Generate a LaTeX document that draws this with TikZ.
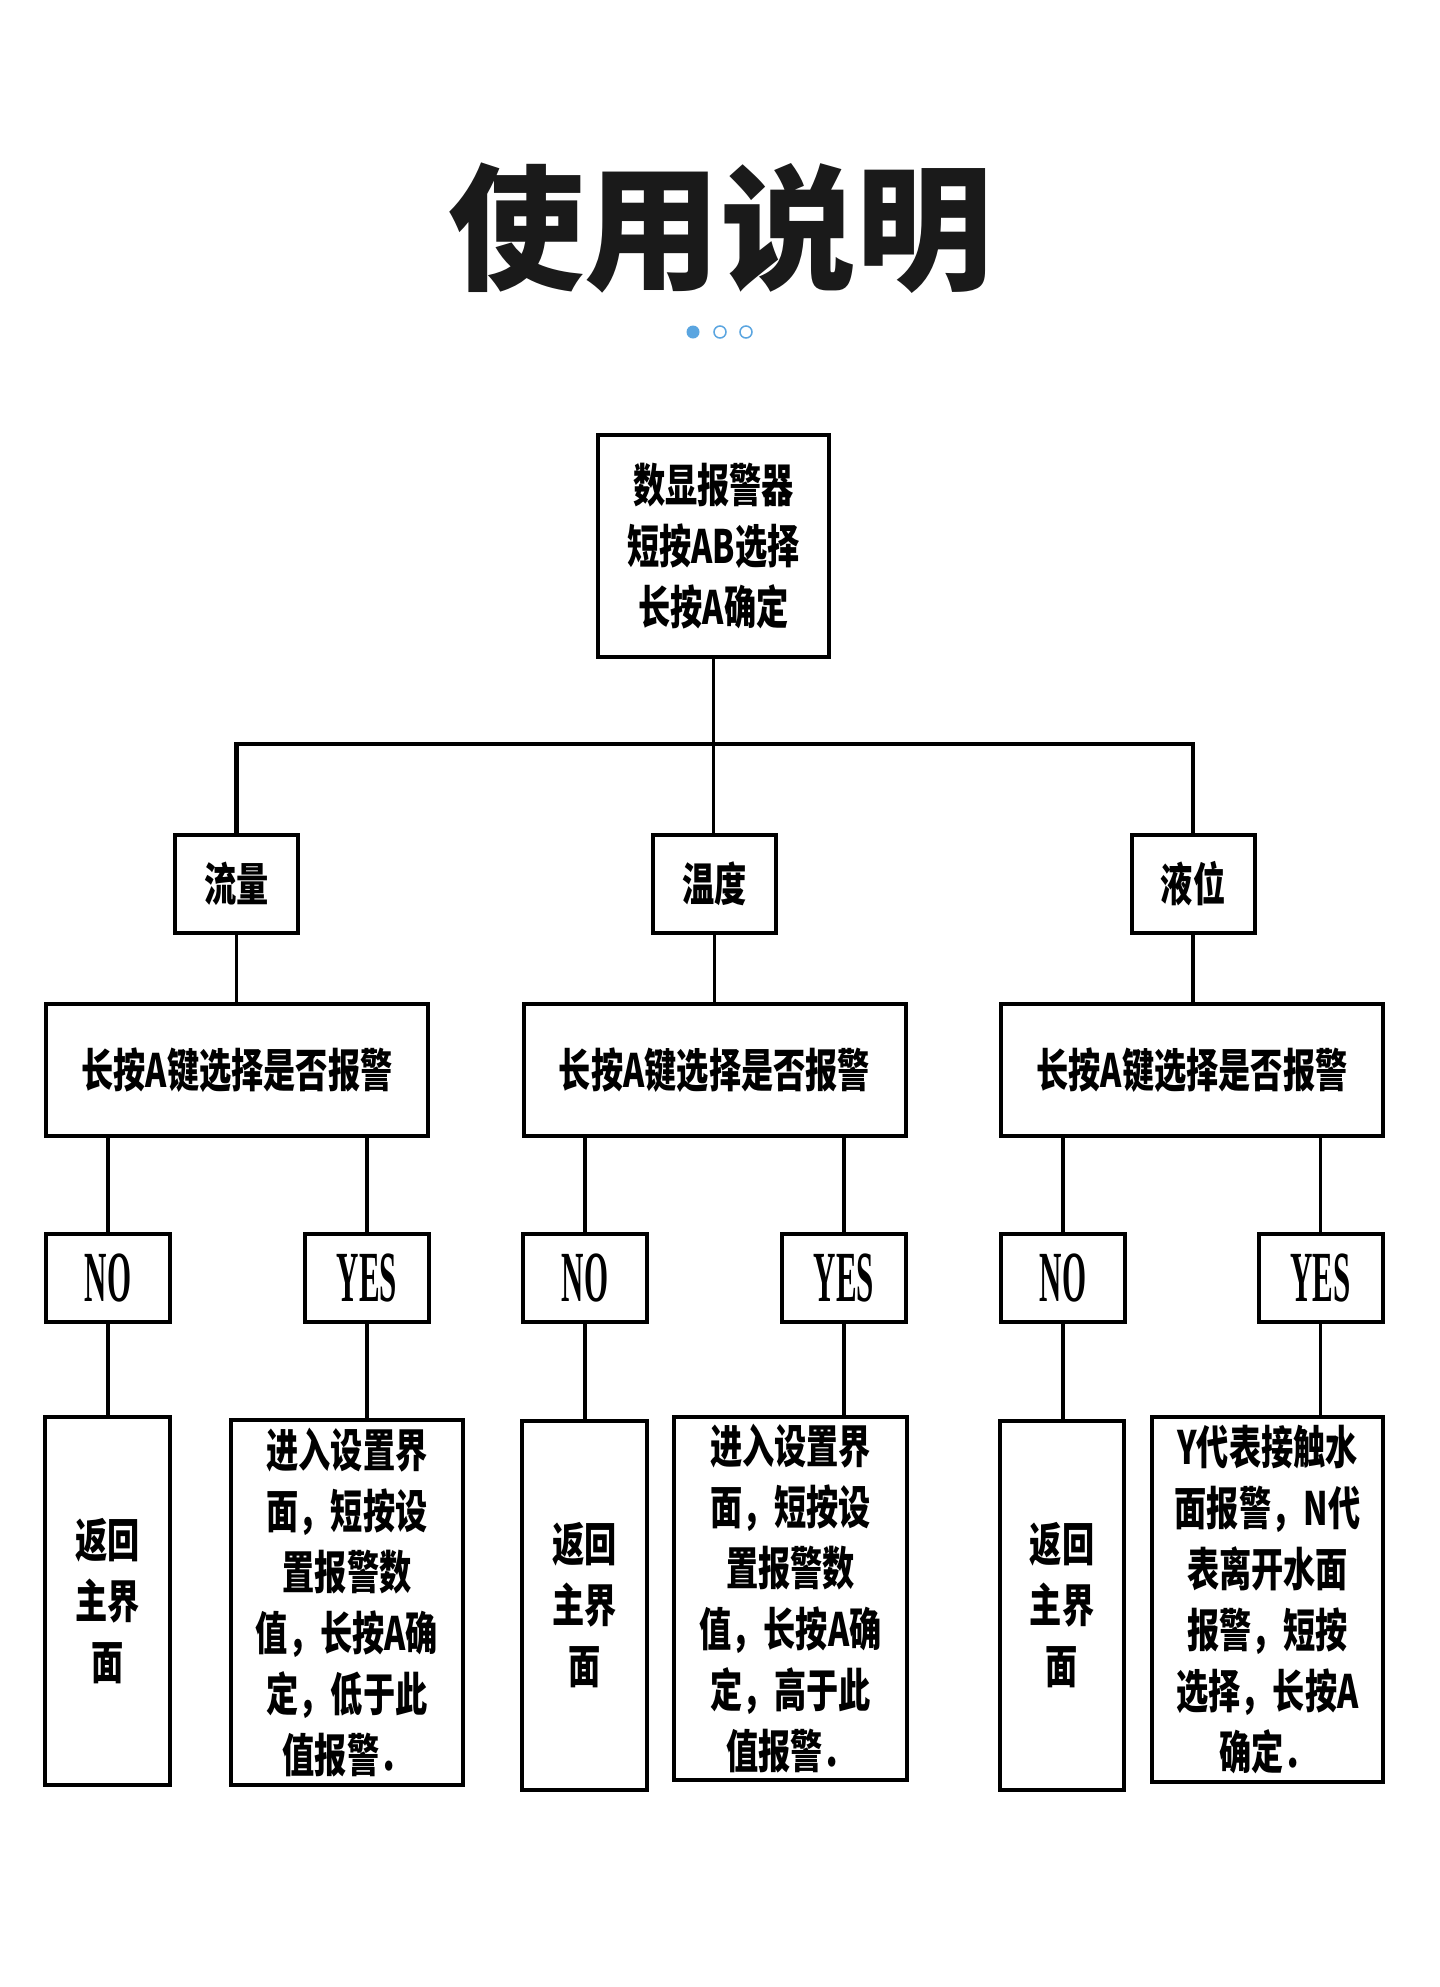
\documentclass[tikz,border=0pt]{standalone}
\usepackage{fontspec}
\newfontfamily\cjk[FakeStretch=0.7]{Noto Sans CJK SC}
\newfontfamily\ttl{Noto Sans CJK SC}
\newfontfamily\lat[FakeStretch=0.43]{Liberation Serif}
\definecolor{dotblue}{HTML}{5AA5E0}
\definecolor{ttlcol}{HTML}{1A1A1A}
\begin{document}
\begin{tikzpicture}[x=1pt,y=-1pt,
  box/.style={draw, line width=4pt, inner sep=0pt, align=center,
    font=\cjk\bfseries\fontsize{46}{61}\selectfont},
  yn/.style={draw, line width=4pt, inner sep=0pt, minimum width=124pt,
    minimum height=88pt, font=\lat\bfseries\fontsize{72}{72}\selectfont},
  link/.style={line width=3.5pt},
  dot/.style={circle, inner sep=0pt, minimum size=13pt}]
\fill[white] (0,0) rectangle (1440,1987);
\useasboundingbox (0,0) rectangle (1440,1987);

% title and dots
\node[font=\ttl\bfseries\fontsize{136}{136}\selectfont, text=ttlcol, inner sep=0pt] (title) at (720,228) {使用说明};
\node[dot, fill=dotblue] (d1) at (693,332) {};
\node[dot, draw=dotblue, line width=1.5pt, minimum size=12pt] (d2) at (720,332) {};
\node[dot, draw=dotblue, line width=1.5pt, minimum size=12pt] (d3) at (746,332) {};

% top box
\node[box, minimum width=231pt, minimum height=222pt] (top) at (713.5,546)
  {数显报警器\\短按AB选择\\长按A确定};

% categories
\node[box, minimum width=123pt, minimum height=98pt] (c1) at (236.5,884) {流量};
\node[box, minimum width=123pt, minimum height=98pt] (c2) at (714.5,884) {温度};
\node[box, minimum width=123pt, minimum height=98pt] (c3) at (1193,884) {液位};

% second row
\node[box, minimum width=382pt, minimum height=132pt] (s1) at (237,1070) {长按A键选择是否报警};
\node[box, minimum width=382pt, minimum height=132pt] (s2) at (714.5,1070) {长按A键选择是否报警};
\node[box, minimum width=382pt, minimum height=132pt] (s3) at (1192,1070) {长按A键选择是否报警};

% NO / YES
\node[yn] (n1) at (108,1278) {NO};
\node[yn] (y1) at (367,1278) {YES};
\node[yn] (n2) at (585,1278) {NO};
\node[yn] (y2) at (844,1278) {YES};
\node[yn] (n3) at (1063,1278) {NO};
\node[yn] (y3) at (1320.5,1278) {YES};

% bottom boxes
\node[box, minimum width=125pt, minimum height=368pt] (r1) at (107.5,1601) {返回\\主界\\面};
\node[box, minimum width=125pt, minimum height=369pt] (r2) at (584.5,1605.5) {返回\\主界\\面};
\node[box, minimum width=124pt, minimum height=369pt] (r3) at (1062,1605.5) {返回\\主界\\面};

\node[box, minimum width=232pt, minimum height=365pt] (t1) at (347,1602.5)
  {进入设置界\\面，短按设\\置报警数\\值，长按A确\\定，低于此\\值报警．};
\node[box, minimum width=233pt, minimum height=363pt] (t2) at (790.5,1598.5)
  {进入设置界\\面，短按设\\置报警数\\值，长按A确\\定，高于此\\值报警．};
\node[box, minimum width=231pt, minimum height=365pt] (t3) at (1267.5,1599.5)
  {Y代表接触水\\面报警，N代\\表离开水面\\报警，短按\\选择，长按A\\确定．};

% connectors
\coordinate (bus) at (714.5,744);
\draw[link, line width=4.5pt] (c1.north) |- (bus) -| (c3.north);
\draw[link] (top.south) -- (top.south |- c2.north);
\foreach \c/\s in {c1/s1,c2/s2,c3/s3}{
  \draw[link] (\c.south) -- (\c.south |- \s.north);
}
\foreach \n/\s in {n1/s1,y1/s1,n2/s2,y2/s2,n3/s3,y3/s3}{
  \draw[link] (\n.north) -- (\n.north |- \s.south);
}
\foreach \n/\b in {n1/r1,y1/t1,n2/r2,y2/t2,n3/r3,y3/t3}{
  \draw[link] (\n.south) -- (\n.south |- \b.north);
}
\end{tikzpicture}
\end{document}
